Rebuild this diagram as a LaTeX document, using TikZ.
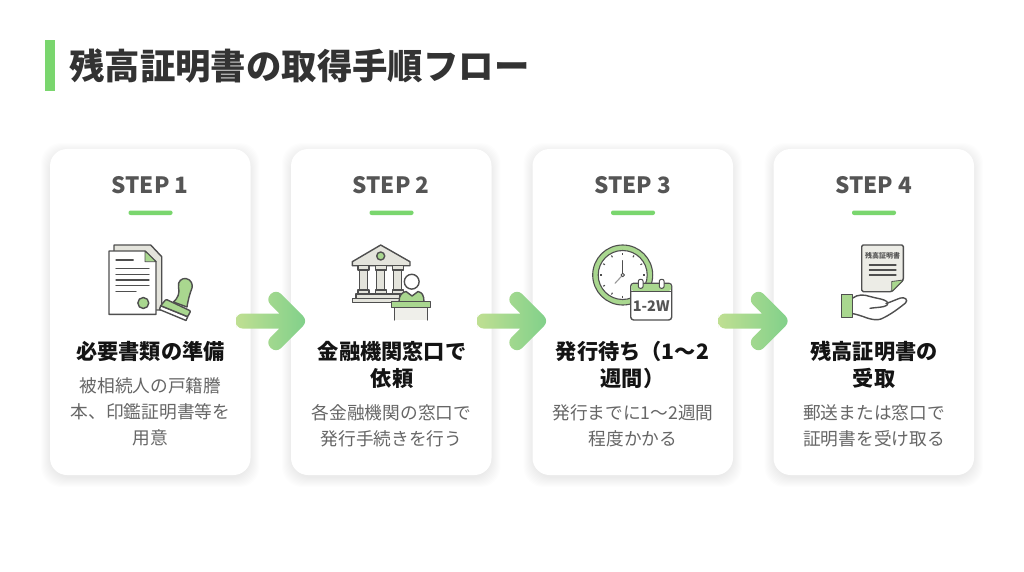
\documentclass[tikz,border=0pt]{standalone}
\usepackage{fontspec}
\setmainfont{Noto Sans CJK JP}
\usetikzlibrary{calc}
\definecolor{ink}{HTML}{333333}
\definecolor{stepgrey}{HTML}{555555}
\definecolor{descgrey}{HTML}{666666}
\definecolor{line}{HTML}{4F4F4F}
\definecolor{barg}{HTML}{7AD66E}
\definecolor{iconG}{HTML}{A9D78F}
\definecolor{paleG}{HTML}{E4E4DC}
\definecolor{arrL}{HTML}{BFDF92}
\definecolor{arrR}{HTML}{7FD08A}
\tikzset{
  x=1pt,y=-1pt,
  card/.style={fill=white,rounded corners=17pt},
  shadowbox/.style={fill=black,opacity=.006,rounded corners=20pt},
  stepttl/.style={font=\fontsize{22.5}{26}\selectfont\bfseries,text=stepgrey,inner sep=0pt},
  cardttl/.style={font=\fontsize{21.2}{27}\selectfont\bfseries,text=black!92,inner sep=0pt,align=center,anchor=north},
  carddesc/.style={font=\fontsize{17.7}{26}\selectfont,text=descgrey,inner sep=0pt,align=center,anchor=north},
  ico/.style={draw=line,line width=1.4pt,line join=round,line cap=round},
  icothin/.style={draw=line,line width=1.1pt,line cap=round},
}
\newcommand{\makecard}[4]{% name, left x, step, unused
  \foreach \g in {0,1,...,9}{
    \fill[shadowbox] ($(#2-\g,149+3-\g)$) rectangle ($(#2+200.5+\g,475+3+\g)$);
  }
  \fill[card] (#2,149) rectangle (#2+200.5,475);
  \node[stepttl] (#1t) at (#2+100,185) {#3};
  \fill[barg,rounded corners=2pt] (#2+78.5,210.5) rectangle (#2+122.5,215) ;
}
\newcommand{\makearrow}[1]{%
  \begin{scope}[shift={(#1,0)}]
  \shade[left color=arrL,right color=arrR,shading angle=90]
    (236,321)
    [rounded corners=6.5pt] -- (236,313.5) [sharp corners] -- (279.4,313.5) -- (270.7,304.8)
    [rounded corners=7pt] -- (265.4,299.5) -- (276,288.9) -- (308,321) -- (276,353.1) -- (265.4,342.5)
    [sharp corners] -- (270.7,337.2) -- (279.4,328.5)
    [rounded corners=6.5pt] -- (236,328.5) -- cycle;
  \end{scope}
}
\begin{document}
\begin{tikzpicture}
\useasboundingbox (0,0) rectangle (1024,572);
\fill[white] (0,0) rectangle (1024,572);
\fill[barg] (45,40) rectangle (55,91);
\node[font=\fontsize{35.4}{40}\selectfont\bfseries,text=ink,anchor=west,inner sep=0pt] (title) at (69,66) {残高証明書の取得手順フロー};

\makecard{a}{50}{STEP 1}{}
\makecard{b}{291}{STEP 2}{}
\makecard{c}{532.5}{STEP 3}{}
\makecard{d}{773.5}{STEP 4}{}

\makearrow{0}
\makearrow{241}
\makearrow{482.5}

% card texts
\node[cardttl] (a1) at (150.5,341) {必要書類の準備};
\node[carddesc] (a2) at (150.5,377.5) {被相続人の戸籍謄\\本、印鑑証明書等を\\用意};
\node[cardttl] (b1) at (392,341) {金融機関窓口で\\依頼};
\node[carddesc] (b2) at (391.5,404.5) {各金融機関の窓口で\\発行手続きを行う};
\node[cardttl] (c1) at (632.5,341) {発行待ち（1〜2\\週間）};
\node[carddesc] (c2) at (633,404.5) {発行までに1〜2週間\\程度かかる};
\node[cardttl] (d1) at (874,341) {残高証明書の\\受取};
\node[carddesc] (d2) at (874,404.5) {郵送または窓口で\\証明書を受け取る};

% icon 1
\filldraw[ico,fill=paleG] (114,251) -- (114,245) -- (150.7,245) -- (161.7,256.7) -- (161.7,310) -- (156,310);
\filldraw[ico,fill=white] (109,251) -- (145,251) -- (156,261.7) -- (156,314.3) -- (109,314.3) -- cycle;
\filldraw[ico,fill=iconG,line width=.8pt] (145,251) -- (145,261.7) -- (156,261.7) -- cycle;
\draw[icothin] (116,260) -- (133.3,260);
\foreach \y in {268.3,274.3,280,285.7} \draw[icothin] (116,\y) -- (149,\y);
\draw[icothin] (116,291.7) -- (136,291.7);
\filldraw[ico,fill=iconG] (143.3,303) circle (5.5);
\filldraw[ico,fill=iconG] (173.5,302) .. controls (178,298) and (180,293) .. (178.5,287) .. controls (177.5,281) and (182,278) .. (186,278.5) .. controls (191.5,279.5) and (193,285) .. (192,288) .. controls (190,293) and (188,300) .. (187,307) -- cycle;
\filldraw[ico,fill=white] (160.7,305.7) -- (187.7,316.7) -- (186,320.5) -- (159.5,309.5) -- cycle;
\filldraw[ico,fill=iconG,rounded corners=1pt] (166,299.3) -- (190.7,311) -- (187.7,316.7) -- (160.7,305.7) -- cycle;

% icon 2
\filldraw[ico,fill=paleG] (380.7,245) -- (410,261.7) -- (410,265.7) -- (352.3,265.7) -- (352.3,261.7) -- cycle;
\filldraw[ico,fill=iconG] (380.7,256) circle (4);
\foreach \x in {363.3,380.7,397.7}{
  \filldraw[ico,fill=paleG] (\x-5.5,265.7) rectangle (\x+5.5,270);
  \filldraw[ico,fill=paleG] (\x-4,270) rectangle (\x+4,290);
  \filldraw[ico,fill=paleG] (\x-5.5,290) rectangle (\x+5.5,294);
}
\filldraw[ico,fill=paleG] (356,294) rectangle (400,298.3);
\filldraw[ico,fill=paleG] (352.3,298.3) rectangle (400,302.7);
\filldraw[ico,fill=iconG] (399,302) .. controls (399,295) and (402,292.5) .. (406,291.5) -- (412,296) -- (418,291.5) .. controls (422,292.5) and (424,295) .. (424,302) -- cycle;
\filldraw[ico,fill=white] (411.7,281.7) circle (7.4);
\filldraw[ico,fill=paleG!60,draw=none] (394.3,307.3) rectangle (427.7,320);
\draw[ico] (394.3,307.3) -- (394.3,320) (427.7,307.3) -- (427.7,320);
\filldraw[ico,fill=iconG] (391.7,301.7) rectangle (430.7,307.3);

% icon 3
\filldraw[ico,fill=iconG,line width=1.1pt] (622.7,275) circle (30);
\filldraw[ico,fill=white,line width=1.1pt] (622.7,275) circle (24.5);
\foreach \a in {0,30,...,330}{
  \draw[line,line width=1.1pt] ($(622.7,275)+(\a:20.5)$) -- ($(622.7,275)+(\a:22.5)$);
}
\draw[line,line width=1.1pt,line cap=round] (622.7,275) -- (622.7,260.7);
\draw[black!40,line width=1.1pt,line cap=round] (622.7,275) -- (615,283.3);
\filldraw[ico,fill=white,line width=.9pt] (622.7,275) circle (1.8);
\filldraw[ico,fill=white,rounded corners=3pt] (630.7,283.3) rectangle (671.7,320);
\fill[iconG,rounded corners=2.5pt] (631.3,284) rectangle (671.1,291);
\draw[line,line width=1pt] (630.7,291) -- (671.7,291);
\foreach \x in {640.7,661.7}
  \filldraw[ico,fill=white,line width=1pt,rounded corners=2pt] (\x-2.4,279.3) rectangle (\x+2.4,288.3);
\node[font=\fontsize{14.5}{16}\selectfont\bfseries,text=stepgrey,inner sep=0pt] (cal) at (651.2,306) {1-2W};

% icon 4
\filldraw[ico,fill=paleG!70,rounded corners=1.5pt] (861.7,245) -- (903.3,245) -- (903.3,280) -- (891.7,291.7) -- (861.7,291.7) -- cycle;
\filldraw[ico,fill=iconG,line width=.8pt] (891.7,291.7) -- (891.7,281.5) -- (903.3,280) -- cycle;
\node[font=\fontsize{7}{8}\selectfont\bfseries,text=stepgrey,inner sep=0pt] (doc) at (882.7,255.7) {残高証明書};
\foreach \y in {265,270,275} \draw[icothin] (869.3,\y) -- (896,\y);
\draw[ico] (852.3,298.3) .. controls (858,294) and (864,294.5) .. (870,296.5) .. controls (875,298) and (880,298.5) .. (884,300) .. controls (889,301.5) and (889,305.5) .. (884,306.5) .. controls (880,307.5) and (875,307.5) .. (870,308.3);
\draw[ico] (886,303.5) .. controls (891,302) and (896,299.5) .. (900.5,298) .. controls (905,296.8) and (908.5,300) .. (905.5,303) .. controls (898,309) and (890,315) .. (881,319) .. controls (877,320.5) and (872,319.5) .. (867,318) .. controls (862,316) and (857,314.5) .. (852.3,313.5);
\filldraw[ico,fill=iconG] (841.7,294.3) rectangle (852.3,317.7);
\end{tikzpicture}
\end{document}
